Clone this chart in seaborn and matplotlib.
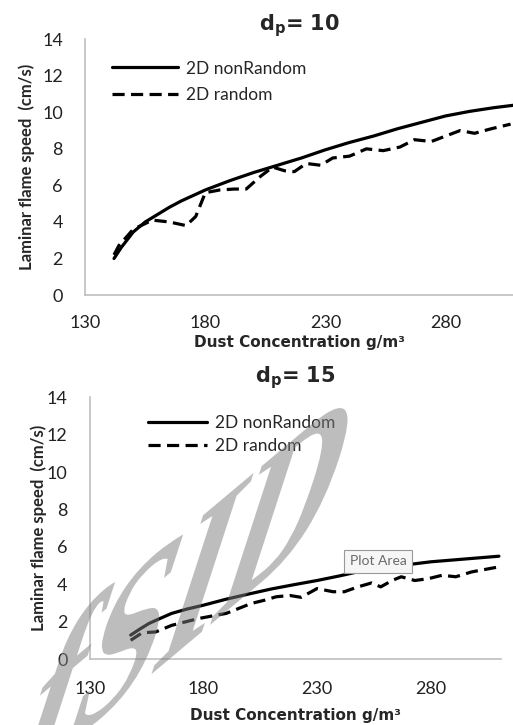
import numpy as np
import pandas as pd
import matplotlib.pyplot as plt
import seaborn as sns
from matplotlib.textpath import TextPath
from matplotlib.patches import PathPatch
from matplotlib.font_manager import FontProperties
from matplotlib.transforms import Affine2D

# d_p = 10
x10_nonrandom = [142, 145, 150, 155, 160, 165, 170, 175, 180, 190, 200, 210, 220, 230, 240, 250, 260, 270,
                 280, 290, 300, 308]
y10_nonrandom = [2.0, 2.6, 3.45, 4.0, 4.4, 4.8, 5.15, 5.45, 5.75, 6.25, 6.7, 7.1, 7.5, 7.95, 8.35, 8.7, 9.1,
                 9.45, 9.8, 10.05, 10.25, 10.38]
x10_random = [142, 144, 150, 158, 165, 172, 176, 180, 186, 192, 197, 203, 208, 213, 217, 222, 228, 233, 240,
              247, 254, 261, 267, 274, 281, 286, 292, 299, 307]
y10_random = [2.2, 2.7, 3.6, 4.1, 4.0, 3.8, 4.3, 5.6, 5.75, 5.8, 5.8, 6.5, 7.0, 6.8, 6.75, 7.2, 7.1, 7.5, 7.6,
              8.0, 7.9, 8.1, 8.5, 8.4, 8.75, 9.0, 8.85, 9.1, 9.35]

# d_p = 15
x15_nonrandom = [148, 152, 156, 160, 166, 173, 180, 190, 200, 210, 220, 230, 240, 250, 260, 270, 280, 290,
                 300, 310]
y15_nonrandom = [1.28, 1.6, 1.9, 2.12, 2.44, 2.68, 2.88, 3.2, 3.48, 3.75, 3.98, 4.2, 4.45, 4.72, 4.92, 5.05,
                 5.2, 5.3, 5.4, 5.5]
x15_random = [148, 153, 159, 166, 178, 190, 201, 207, 212, 218, 223, 230, 237, 242, 248, 254, 258, 263,
              267, 273, 279, 285, 291, 298, 310]
y15_random = [1.0, 1.4, 1.45, 1.8, 2.17, 2.44, 2.97, 3.15, 3.33, 3.4, 3.3, 3.77, 3.6, 3.6, 3.86, 4.07, 3.86, 4.2,
              4.4, 4.2, 4.3, 4.48, 4.4, 4.66, 4.93]

x_ticks = [130, 180, 230, 280]
y_ticks = [0, 2, 4, 6, 8, 10, 12, 14]

sns.set_style("white")
plt.rcParams['font.family'] = ['Lato', 'DejaVu Sans']
plt.rcParams['mathtext.fontset'] = 'dejavusans'


def make_df(xn, yn, xr, yr):
    a = pd.DataFrame({'x': xn, 'y': yn, 'series': '2D nonRandom'})
    b = pd.DataFrame({'x': xr, 'y': yr, 'series': '2D random'})
    return pd.concat([a, b], ignore_index=True)


fig = plt.figure(figsize=(5.13, 7.25), dpi=100)
ax1 = fig.add_axes([0.166, 0.593, 0.834, 0.353])
ax2 = fig.add_axes([0.175, 0.091, 0.802, 0.361])

panels = [
    # ax, data, dp, xmax, legend anchor, handle length, label spacing, x tick pad, xlabel pad, ylabel pad, title pad
    (ax1, make_df(x10_nonrandom, y10_nonrandom, x10_random, y10_random), '10', 308,
     (0.218, 0.9165), 3.8, 0.6, 14, 3.5, 5, 6),
    (ax2, make_df(x15_nonrandom, y15_nonrandom, x15_random, y15_random), '15', 311,
     (0.288, 0.428), 3.4, 0.42, 16, 8, 0, 11),
]

for ax, df, dp, xmax, anchor, hl, ls, xpad, xlpad, ylpad, tpad in panels:
    sns.lineplot(data=df, x='x', y='y', style='series', color='black', linewidth=2.3,
                 dashes={'2D nonRandom': '', '2D random': (3.8, 2)}, ax=ax, sort=False)
    ax.set_xlim(130, xmax)
    ax.set_ylim(0, 14)
    ax.set_xticks(x_ticks)
    ax.set_yticks(y_ticks)
    ax.tick_params(axis='both', length=0, labelsize=13, colors='#222222')
    ax.tick_params(axis='x', pad=xpad)
    ax.tick_params(axis='y', pad=16)
    for s in ['top', 'right']:
        ax.spines[s].set_visible(False)
    for s in ['left', 'bottom']:
        ax.spines[s].set_color('#bfbfbf')
        ax.spines[s].set_linewidth(1.2)
    ax.set_xlabel('Dust Concentration g/m³', fontsize=11, fontweight='bold', family='DejaVu Sans',
                  labelpad=xlpad)
    ax.set_ylabel('Laminar flame speed  (cm/s)', fontsize=12, fontweight='bold', labelpad=ylpad)
    ax.set_title(r'$\mathbf{d_p}$= ' + dp, fontsize=15, fontweight='bold', family='DejaVu Sans', pad=tpad)
    leg = ax.legend(loc='upper left', bbox_to_anchor=anchor, bbox_transform=fig.transFigure,
                    frameon=False, fontsize=12.5, borderpad=0, borderaxespad=0,
                    handlelength=hl, handletextpad=0.45, labelspacing=ls)
    for line in leg.get_lines():
        line.set_linewidth(2.3)

# "Plot Area" tooltip seen in the original screenshot
fig.text(0.737, 0.226, 'Plot Area', fontsize=10, color='#6a6a6a', ha='center', va='center',
         bbox=dict(boxstyle='square,pad=0.4', fc='#f6f6f6', ec='#9a9a9a', lw=0.8))

# skewed "fSID" watermark, placed in pixel coordinates
wm_path = TextPath((0, 0), 'fSID', size=1, prop=FontProperties(family='Liberation Serif', weight='bold'))
u = np.array([np.cos(np.radians(40)), np.sin(np.radians(40))]) * 205
v = np.array([np.cos(np.radians(72)), np.sin(np.radians(72))]) * 255
origin = np.array([210, 160]) - 1.125 * u - 0.34 * v
wm_tr = Affine2D(np.array([[u[0], v[0], origin[0]],
                           [u[1], v[1], origin[1]],
                           [0, 0, 1]]))
wm = PathPatch(wm_path, transform=wm_tr, facecolor='#7d7d7d', edgecolor='none', alpha=0.5, zorder=10)
fig.add_artist(wm)

fig.savefig('out.png', dpi=100)
